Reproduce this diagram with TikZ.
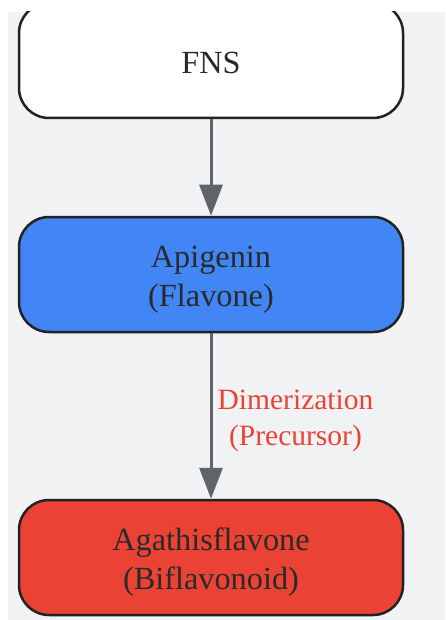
\documentclass[tikz,border=0pt]{standalone}
\usepackage{fontspec}
\setmainfont{Liberation Serif}
\usetikzlibrary{arrows.meta}
\definecolor{bg}{HTML}{F1F2F4}
\definecolor{boxline}{HTML}{222222}
\definecolor{textc}{HTML}{2A2A2A}
\definecolor{arrowc}{HTML}{606368}
\definecolor{gblue}{HTML}{4285F4}
\definecolor{gred}{HTML}{EA4335}
\begin{document}
\begin{tikzpicture}[x=1pt,y=-1pt,
  box/.style={draw=boxline, line width=2.5pt, rounded corners=30pt,
    minimum width=384pt, minimum height=115pt, inner sep=0pt},
  boxtext/.style={text=textc, font=\fontsize{32.3}{39}\selectfont, align=center, inner sep=0pt},
  conn/.style={draw=arrowc, line width=3pt, -{Triangle[length=31pt,width=23pt]}},
  lbl/.style={text=gred, font=\fontsize{29.5}{36}\selectfont, align=center, inner sep=0pt}]
\useasboundingbox (0,0) rectangle (445,620);
\begin{scope}
\clip (8,12) rectangle (445,620);
\fill[bg] (8,12) rectangle (445,620);
\node[box, fill=white, label={[boxtext, yshift=-2pt]center:FNS}] (fns) at (211,60.5) {};
\node[box, fill=gblue, label={[boxtext, yshift=-5pt]center:Apigenin\\(Flavone)}] (api) at (211,274.5) {};
\node[box, fill=gred, label={[boxtext, yshift=-5pt]center:Agathisflavone\\(Biflavonoid)}] (aga) at (211,557.5) {};
\draw[conn] (fns.south) -- (api.north);
\draw[conn] (api.south) -- (aga.north);
\node[lbl] (dim) at (295.5,421) {Dimerization\\(Precursor)};
\end{scope}
\end{tikzpicture}
\end{document}
